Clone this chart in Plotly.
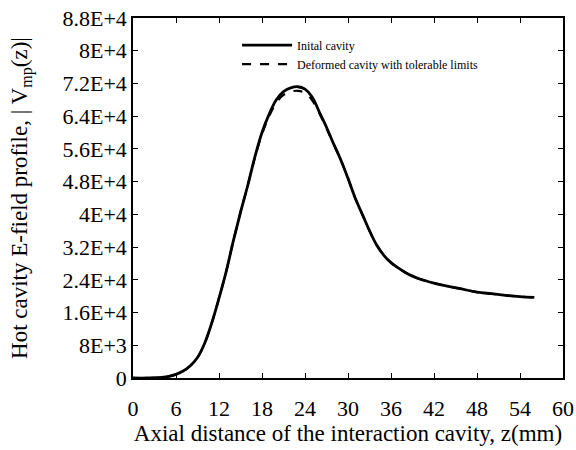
import plotly.graph_objects as go

z_mm = [0, 2, 4, 5, 6, 7, 8, 9, 10, 11, 12, 13, 14, 15, 16, 17, 18, 19, 20, 21, 22, 23, 24, 25, 26, 27, 28, 29, 30,
        31, 32, 33, 34, 35, 36, 37, 38, 39, 40, 42, 44, 46, 48, 50, 52, 54, 56]
v_initial = [0, 0, 150, 400, 900, 1700, 3000, 5000, 8500, 13500, 19500, 26000, 33500, 40500, 47000, 54000, 60000,
             64500, 68000, 70000, 70900, 71200, 70600, 68700, 65000, 61300, 57200, 53300, 48800,
             44000, 40000, 36000, 32500, 30000, 28200, 26900, 25800, 24900, 24200, 23200, 22400, 21700, 21000,
             20600, 20200, 19900, 19700]
v_deformed = [0, 0, 150, 400, 900, 1700, 3000, 5000, 8500, 13500, 19500, 26000, 33500, 40500, 47000, 53800, 59600,
              64000, 67300, 69200, 70000, 70200, 69700, 67900, 64700, 61000, 57200, 53300, 48800,
              44000, 40000, 36000, 32500, 30000, 28200, 26900, 25800, 24900, 24200, 23200, 22400, 21700, 21000,
              20600, 20200, 19900, 19700]

y_tickvals = [0, 8000, 16000, 24000, 32000, 40000, 48000, 56000, 64000, 72000, 80000, 88000]
y_ticktext = ["0", "8E+3", "1.6E+4", "2.4E+4", "3.2E+4", "4E+4", "4.8E+4", "5.6E+4", "6.4E+4", "7.2E+4", "8E+4", "8.8E+4"]
x_tickvals = [0, 6, 12, 18, 24, 30, 36, 42, 48, 54, 60]

font_family = "Liberation Serif, Times New Roman, serif"

fig = go.Figure()
fig.add_trace(go.Scatter(x=z_mm, y=v_initial, mode="lines", name="Inital cavity",
                         line=dict(color="black", width=2.8, shape="spline")))
fig.add_trace(go.Scatter(x=z_mm, y=v_deformed, mode="lines", name="Deformed cavity with tolerable limits",
                         line=dict(color="black", width=2.2, dash="dash", shape="spline")))

axis_common = dict(showline=True, linecolor="black", linewidth=1.5, mirror="ticks", ticks="inside",
                   ticklen=5, tickcolor="black", showgrid=False, zeroline=False, automargin=False,
                   tickfont=dict(family=font_family, size=22, color="black"))

fig.update_layout(
    width=576, height=450,
    margin=dict(l=133, r=13, t=18, b=72),
    paper_bgcolor="white", plot_bgcolor="white",
    font=dict(family=font_family, color="black"),
    xaxis=dict(range=[0, 60], tickvals=x_tickvals, ticklabelstandoff=10,
               title=dict(text="Axial distance of the interaction cavity, z(mm)",
                          font=dict(family=font_family, size=23), standoff=4),
               **axis_common),
    yaxis=dict(range=[0, 88000], tickvals=y_tickvals, ticktext=y_ticktext,
               title=dict(text="Hot cavity E-field profile, | V<sub>mp</sub>(z)|",
                          font=dict(family=font_family, size=23), standoff=28),
               **axis_common),
    legend=dict(x=0.242, y=0.965, xanchor="left", yanchor="top",
                bgcolor="rgba(0,0,0,0)", font=dict(family=font_family, size=12, color="black"),
                itemwidth=50, tracegroupgap=0),
    showlegend=True,
)

fig.write_html("out.html", config={"displayModeBar": False},
               post_script="document.body.style.margin='0';")
